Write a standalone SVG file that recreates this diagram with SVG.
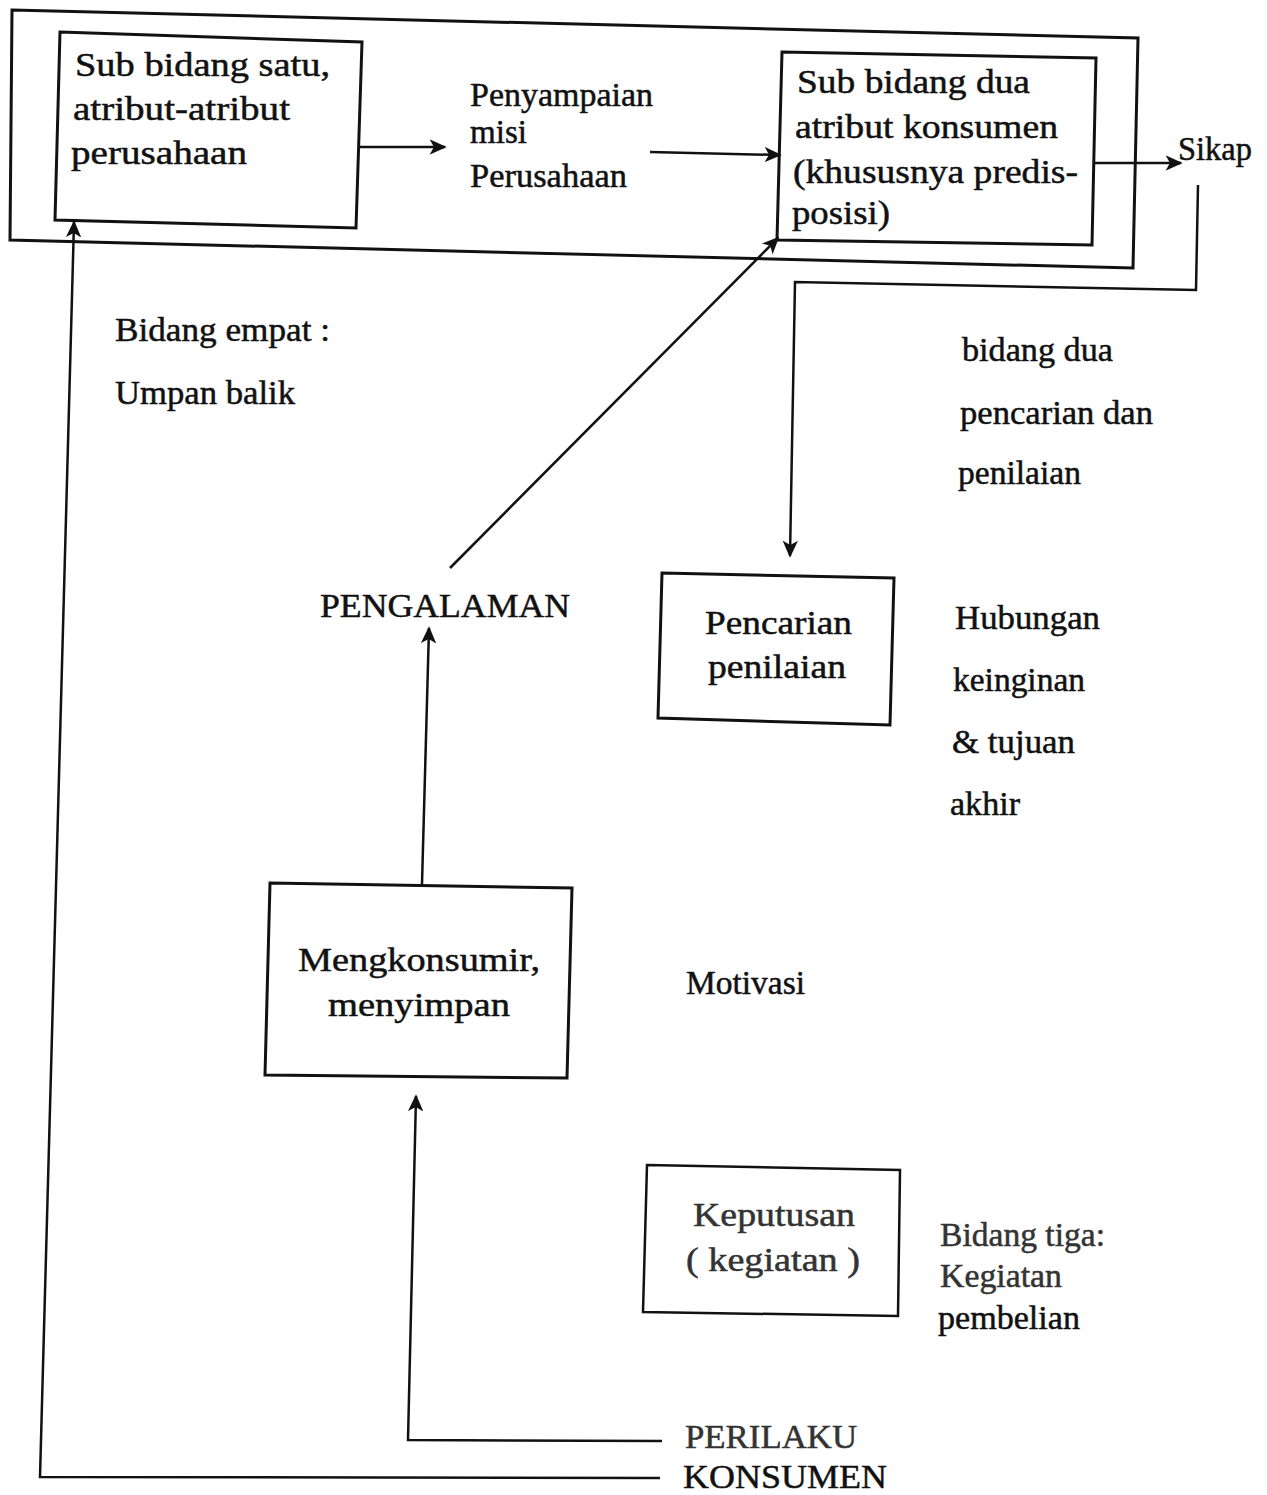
<svg xmlns="http://www.w3.org/2000/svg" width="1267" height="1495" viewBox="0 0 1267 1495">
<style>
text{font-family:"Liberation Serif","Times New Roman",serif;font-size:34px;fill:#111;stroke:#111;stroke-width:0.5}
.box{fill:none;stroke:#111;stroke-width:3}
.ln{fill:none;stroke:#111;stroke-width:2.5}
.g{fill:#333;stroke:#333}
</style>
<defs>
<marker id="ahb" viewBox="0 0 10 10" refX="9" refY="5" markerWidth="17" markerHeight="17" markerUnits="userSpaceOnUse" orient="auto"><path d="M0,0.5 L10,5 L0,9.5 L2.5,5 z" fill="#111"/></marker>
</defs>
<rect width="1267" height="1495" fill="#fff"/>
<g id="frame"><polygon class="box" points="12,10 1138,38 1133,268 10,240"/></g>
<g id="n1"><polygon class="box" points="60,32 362,42 356,228 55,220"/>
<text x="75" y="76" textLength="255" lengthAdjust="spacingAndGlyphs">Sub bidang satu,</text>
<text x="73" y="120" textLength="217" lengthAdjust="spacingAndGlyphs">atribut-atribut</text>
<text x="71" y="164" textLength="176" lengthAdjust="spacingAndGlyphs">perusahaan</text></g>
<g id="n2"><text x="470" y="106" textLength="183" lengthAdjust="spacingAndGlyphs">Penyampaian</text>
<text x="470" y="143" textLength="57" lengthAdjust="spacingAndGlyphs">misi</text>
<text x="470" y="187" textLength="157" lengthAdjust="spacingAndGlyphs">Perusahaan</text></g>
<g id="n3"><polygon class="box" points="782,52 1096,58 1092,245 777,240"/>
<text x="797" y="93" textLength="233" lengthAdjust="spacingAndGlyphs">Sub bidang dua</text>
<text x="795" y="138" textLength="263" lengthAdjust="spacingAndGlyphs">atribut konsumen</text>
<text x="793" y="183" textLength="285" lengthAdjust="spacingAndGlyphs">(khususnya predis-</text>
<text x="792" y="224" textLength="98" lengthAdjust="spacingAndGlyphs">posisi)</text></g>
<g id="n4"><text x="1178" y="160" textLength="74" lengthAdjust="spacingAndGlyphs">Sikap</text></g>
<g id="n5"><text x="115" y="341" textLength="215" lengthAdjust="spacingAndGlyphs">Bidang empat :</text>
<text x="115" y="404" textLength="180" lengthAdjust="spacingAndGlyphs">Umpan balik</text></g>
<g id="n6"><text x="962" y="361" textLength="151" lengthAdjust="spacingAndGlyphs">bidang dua</text>
<text x="960" y="424" textLength="193" lengthAdjust="spacingAndGlyphs">pencarian dan</text>
<text x="958" y="484" textLength="123" lengthAdjust="spacingAndGlyphs">penilaian</text></g>
<g id="n7"><text x="320" y="617" textLength="250" lengthAdjust="spacingAndGlyphs">PENGALAMAN</text></g>
<g id="n8"><polygon class="box" points="662,573 894,578 890,725 658,718"/>
<text x="705" y="634" textLength="147" lengthAdjust="spacingAndGlyphs">Pencarian</text>
<text x="708" y="678" textLength="138" lengthAdjust="spacingAndGlyphs">penilaian</text></g>
<g id="n9"><text x="955" y="629" textLength="145" lengthAdjust="spacingAndGlyphs">Hubungan</text>
<text x="953" y="691" textLength="132" lengthAdjust="spacingAndGlyphs">keinginan</text>
<text x="952" y="753" textLength="123" lengthAdjust="spacingAndGlyphs">&amp; tujuan</text>
<text x="950" y="815" textLength="70" lengthAdjust="spacingAndGlyphs">akhir</text></g>
<g id="n10"><polygon class="box" points="270,883 572,888 567,1078 265,1075"/>
<text x="298" y="971" textLength="242" lengthAdjust="spacingAndGlyphs">Mengkonsumir,</text>
<text x="328" y="1016" textLength="182" lengthAdjust="spacingAndGlyphs">menyimpan</text></g>
<g id="n11"><text x="686" y="994" textLength="119" lengthAdjust="spacingAndGlyphs">Motivasi</text></g>
<g id="n12"><polygon class="box" points="647,1165 900,1170 898,1316 643,1312" style="stroke-width:2.5"/>
<text class="g" x="693" y="1226" textLength="162" lengthAdjust="spacingAndGlyphs">Keputusan</text>
<text class="g" x="686" y="1271" textLength="174" lengthAdjust="spacingAndGlyphs">( kegiatan )</text></g>
<g id="n13"><text class="g" x="940" y="1246" textLength="165" lengthAdjust="spacingAndGlyphs">Bidang tiga:</text>
<text class="g" x="940" y="1287" textLength="122" lengthAdjust="spacingAndGlyphs">Kegiatan</text>
<text x="938" y="1329" textLength="142" lengthAdjust="spacingAndGlyphs">pembelian</text></g>
<g id="n14"><text class="g" x="685" y="1448" textLength="172" lengthAdjust="spacingAndGlyphs">PERILAKU</text>
<text x="683" y="1488" textLength="204" lengthAdjust="spacingAndGlyphs">KONSUMEN</text></g>
<g id="connectors">
<line class="ln" x1="360" y1="147" x2="445" y2="147" marker-end="url(#ahb)"/>
<line class="ln" x1="650" y1="152" x2="780" y2="155" marker-end="url(#ahb)"/>
<line class="ln" x1="1093" y1="163" x2="1181" y2="163" marker-end="url(#ahb)"/>
<polyline class="ln" points="1198,185 1196,290 795,282 790,556" marker-end="url(#ahb)"/>
<line class="ln" x1="450" y1="568" x2="778" y2="238" marker-end="url(#ahb)"/>
<line class="ln" x1="422" y1="884" x2="429" y2="628" marker-end="url(#ahb)"/>
<polyline class="ln" points="662,1441 408,1440 416,1096" marker-end="url(#ahb)"/>
<polyline class="ln" points="660,1478 40,1477 74,222" marker-end="url(#ahb)"/>
</g>
</svg>
